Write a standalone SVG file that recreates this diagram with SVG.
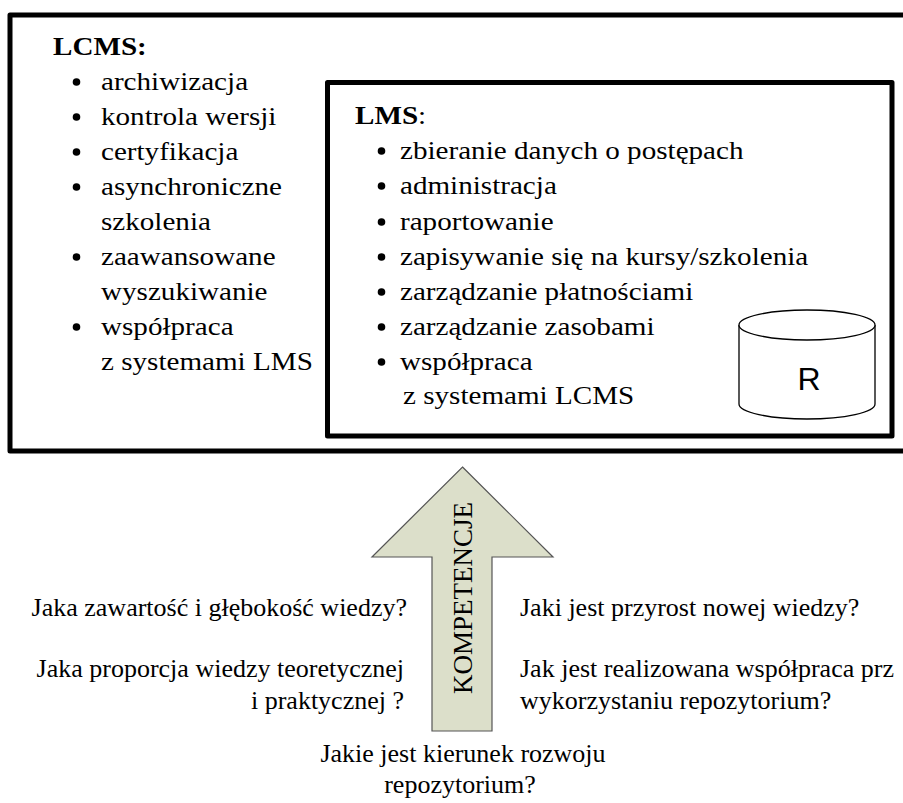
<svg xmlns="http://www.w3.org/2000/svg" width="903" height="803" viewBox="0 0 903 803">
  <style>
    .box { fill: none; stroke: #000; stroke-width: 5; stroke-linejoin: round; }
    .dot { fill: #000; }
    .cyl { fill: #fff; stroke: #000; stroke-width: 1.3; }
    .arrow { fill: #dcdfca; stroke: #555; stroke-width: 1.2; }
  </style>

  <rect width="903" height="803" fill="#fff"/>

  <!-- LCMS outer frame -->
  <g id="lcms" font-family="'Liberation Serif', 'Times New Roman', serif" font-size="26" fill="#000">
    <rect class="box" x="10" y="15" width="920" height="436"/>
    <text font-weight="bold" transform="matrix(1.12 0 0 1 53 55)">LCMS:</text>
    <g id="lcms-bullets">
      <circle class="dot" cx="76.5" cy="82" r="3.8"/>
      <circle class="dot" cx="76.5" cy="117" r="3.8"/>
      <circle class="dot" cx="76.5" cy="152" r="3.8"/>
      <circle class="dot" cx="76.5" cy="187" r="3.8"/>
      <circle class="dot" cx="76.5" cy="257" r="3.8"/>
      <circle class="dot" cx="76.5" cy="327" r="3.8"/>
    </g>
    <text transform="matrix(1.12 0 0 1 101 90)">archiwizacja</text>
    <text transform="matrix(1.12 0 0 1 101 125)">kontrola wersji</text>
    <text transform="matrix(1.12 0 0 1 101 160)">certyfikacja</text>
    <text transform="matrix(1.12 0 0 1 101 195)">asynchroniczne</text>
    <text transform="matrix(1.12 0 0 1 101 230)">szkolenia</text>
    <text transform="matrix(1.12 0 0 1 101 265)">zaawansowane</text>
    <text transform="matrix(1.12 0 0 1 101 300)">wyszukiwanie</text>
    <text transform="matrix(1.12 0 0 1 101 335)">współpraca</text>
    <text transform="matrix(1.12 0 0 1 101 370)">z systemami LMS</text>
  </g>

  <!-- LMS inner frame -->
  <g id="lms" font-family="'Liberation Serif', 'Times New Roman', serif" font-size="26" fill="#000">
    <rect class="box" x="327.5" y="82.5" width="564.5" height="353.5"/>
    <text transform="matrix(1.12 0 0 1 355 124)"><tspan font-weight="bold">LMS</tspan>:</text>
    <g id="lms-bullets">
      <circle class="dot" cx="381.5" cy="151" r="3.8"/>
      <circle class="dot" cx="381.5" cy="186" r="3.8"/>
      <circle class="dot" cx="381.5" cy="222" r="3.8"/>
      <circle class="dot" cx="381.5" cy="257" r="3.8"/>
      <circle class="dot" cx="381.5" cy="292" r="3.8"/>
      <circle class="dot" cx="381.5" cy="327" r="3.8"/>
      <circle class="dot" cx="381.5" cy="362" r="3.8"/>
    </g>
    <text transform="matrix(1.12 0 0 1 400 159)">zbieranie danych o postępach</text>
    <text transform="matrix(1.12 0 0 1 400 194)">administracja</text>
    <text transform="matrix(1.12 0 0 1 400 230)">raportowanie</text>
    <text transform="matrix(1.12 0 0 1 400 265)">zapisywanie się na kursy/szkolenia</text>
    <text transform="matrix(1.12 0 0 1 400 300)">zarządzanie płatnościami</text>
    <text transform="matrix(1.12 0 0 1 400 335)">zarządzanie zasobami</text>
    <text transform="matrix(1.12 0 0 1 400 370)">współpraca</text>
    <text transform="matrix(1.12 0 0 1 403 404)">z systemami LCMS</text>
  </g>

  <!-- repository cylinder -->
  <g id="repo">
    <path class="cyl" d="M739 325 V404 A68 15 0 0 0 875 404 V325"/>
    <ellipse class="cyl" cx="807" cy="325" rx="68" ry="15"/>
    <text x="809" y="390" text-anchor="middle" font-family="'Liberation Sans', Arial, sans-serif" font-size="32" fill="#000">R</text>
  </g>

  <!-- competence block arrow -->
  <g id="competence" font-family="'Liberation Serif', 'Times New Roman', serif" fill="#000">
    <path class="arrow" d="M462.5 467 L553 557 L492 557 L492 731 L432 731 L432 557 L372 557 Z"/>
    <text transform="translate(472 598) rotate(-90)" text-anchor="middle" font-size="27">KOMPETENCJE</text>
  </g>

  <!-- questions -->
  <g id="questions" font-family="'Liberation Serif', 'Times New Roman', serif" font-size="26" fill="#000">
    <g id="questions-left" text-anchor="end">
      <text x="407" y="616">Jaka zawartość i głębokość wiedzy?</text>
      <text x="404" y="677">Jaka proporcja wiedzy teoretycznej</text>
      <text x="404" y="709">i praktycznej ?</text>
    </g>
    <g id="questions-right">
      <text x="520" y="616">Jaki jest przyrost nowej wiedzy?</text>
      <text x="520" y="677">Jak jest realizowana współpraca prz</text>
      <text x="520" y="709">wykorzystaniu repozytorium?</text>
    </g>
    <g id="questions-bottom" text-anchor="middle">
      <text x="463" y="762">Jakie jest kierunek rozwoju</text>
      <text x="460" y="793">repozytorium?</text>
    </g>
  </g>
</svg>
